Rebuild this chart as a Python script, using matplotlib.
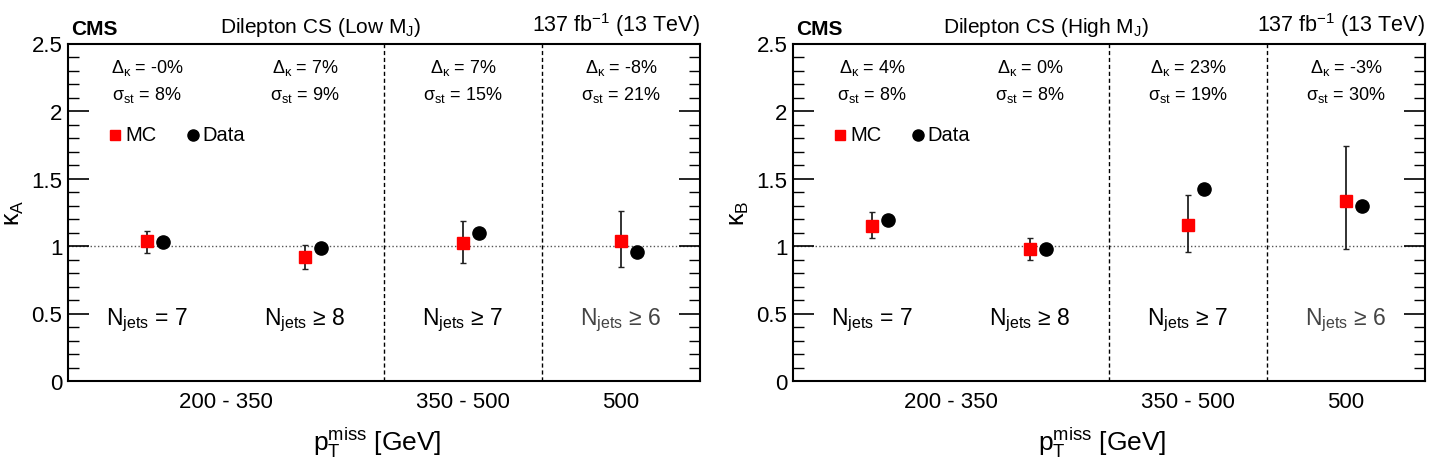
import matplotlib
matplotlib.use("Agg")
import matplotlib.pyplot as plt
import numpy as np

plt.rcParams['font.family'] = ['Liberation Sans', 'DejaVu Sans']
plt.rcParams['mathtext.fontset'] = 'custom'
plt.rcParams['mathtext.rm'] = 'Liberation Sans'
plt.rcParams['mathtext.it'] = 'Liberation Sans:italic'
plt.rcParams['mathtext.bf'] = 'Liberation Sans:bold'
plt.rcParams['mathtext.default'] = 'regular'

# bins (MET ranges x Njets)
nbins = 4
xtick_pos = [1.0, 2.5, 3.5]
xtick_labels = ['200 - 350', '350 - 500', '500']
njets_labels = [r'N$_{jets}$ = 7', r'N$_{jets}$ ≥ 8', r'N$_{jets}$ ≥ 7', r'N$_{jets}$ ≥ 6']

# Low MJ (kappa_A)
mc_A = [1.034, 0.919, 1.020, 1.037]
mc_A_up = [0.079, 0.088, 0.165, 0.219]
mc_A_dn = [0.086, 0.089, 0.143, 0.190]
data_A = [1.027, 0.983, 1.094, 0.952]
delta_A = ['-0%', '7%', '7%', '-8%']
sigma_A = ['8%', '9%', '15%', '21%']

# High MJ (kappa_B)
mc_B = [1.150, 0.978, 1.155, 1.337]
mc_B_up = [0.099, 0.079, 0.222, 0.403]
mc_B_dn = [0.093, 0.079, 0.199, 0.359]
data_B = [1.192, 0.978, 1.424, 1.293]
delta_B = ['4%', '0%', '23%', '-3%']
sigma_B = ['8%', '8%', '19%', '30%']


def draw_panel(ax, mc, up, dn, data, delta, sigma, ylab, region):
    centers = np.arange(nbins) + 0.5
    ax.set_xlim(0, nbins)
    ax.set_ylim(0, 2.5)

    ax.axhline(1.0, color='#555555', ls=':', lw=1.0, zorder=1)
    for xb in [2, 3]:
        ax.axvline(xb, color='black', ls=(0, (3, 2)), lw=1.0, zorder=1)

    ax.errorbar(centers, mc, yerr=[dn, up], fmt='s', color='red', ms=8.5,
                ecolor='#222222', elinewidth=1.3, capsize=2, zorder=3)
    ax.plot(centers + 0.1, data, 'o', color='black', ms=9.5, zorder=3)

    for i in range(nbins):
        ax.text(centers[i], 2.325, r'$\Delta_{\kappa}$ = ' + delta[i], ha='center', va='center', fontsize=13)
        ax.text(centers[i], 2.125, r'$\sigma_{st}$ = ' + sigma[i], ha='center', va='center', fontsize=13)
        col = 'black' if i < 3 else '#444444'
        ax.text(centers[i], 0.46, njets_labels[i], ha='center', va='center', fontsize=16.5, color=col)

    # legend
    ax.plot([0.30], [1.825], 's', color='red', ms=7)
    ax.text(0.36, 1.825, 'MC', va='center', fontsize=14.5)
    ax.plot([0.79], [1.825], 'o', color='black', ms=8)
    ax.text(0.85, 1.825, 'Data', va='center', fontsize=14.5)

    ax.set_xticks(xtick_pos)
    ax.set_xticklabels(xtick_labels)
    ax.tick_params(axis='x', length=0, labelsize=16, pad=7)
    ax.set_yticks([0, 0.5, 1, 1.5, 2, 2.5])
    ax.set_yticklabels(['0', '0.5', '1', '1.5', '2', '2.5'])
    ax.set_yticks(np.arange(0, 2.51, 0.1), minor=True)
    ax.tick_params(axis='y', which='major', direction='in', length=15, width=1.2,
                   right=True, labelsize=16, pad=4)
    ax.tick_params(axis='y', which='minor', direction='in', length=8, width=1.0, right=True)
    for sp in ax.spines.values():
        sp.set_linewidth(1.5)

    ax.set_ylabel(ylab, fontsize=18)
    ax.yaxis.set_label_coords(-0.066, 0.5)
    ax.set_xlabel(r'p$_{T}^{miss}$ [GeV]', fontsize=19)
    ax.xaxis.set_label_coords(0.49, -0.13)

    ax.text(0.005, 1.015, 'CMS', transform=ax.transAxes, fontsize=15, fontweight='bold', va='bottom')
    ax.text(0.40, 1.015, 'Dilepton CS (' + region + r' M$_{J}$)', transform=ax.transAxes,
            fontsize=15, ha='center', va='bottom')
    ax.text(1.0, 1.015, r'137 fb$^{-1}$ (13 TeV)', transform=ax.transAxes,
            fontsize=15.5, ha='right', va='bottom')


fig = plt.figure(figsize=(14.34, 4.64), dpi=100)
ax1 = fig.add_axes([68 / 1434, 82 / 464, 632 / 1434, 337.5 / 464])
ax2 = fig.add_axes([793 / 1434, 82 / 464, 632 / 1434, 337.5 / 464])

draw_panel(ax1, mc_A, mc_A_up, mc_A_dn, data_A, delta_A, sigma_A, r'$\kappa_{A}$', 'Low')
draw_panel(ax2, mc_B, mc_B_up, mc_B_dn, data_B, delta_B, sigma_B, r'$\kappa_{B}$', 'High')

fig.savefig('out.png', dpi=100)
